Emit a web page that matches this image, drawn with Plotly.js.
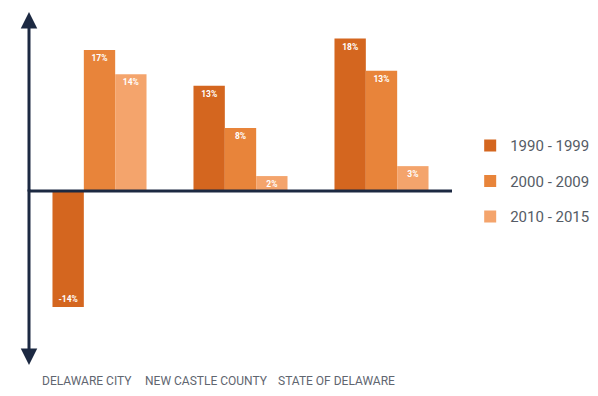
<!DOCTYPE html>
<html>
<head>
<meta charset="utf-8">
<script src="https://cdn.plot.ly/plotly-3.0.1.min.js"></script>
<style>html,body{margin:0;padding:0;background:#fff;}#chart{width:598px;height:396px;}</style>
</head>
<body>
<div id="chart"></div>
<script>
var categories = ["DELAWARE CITY", "NEW CASTLE COUNTY", "STATE OF DELAWARE"];
var seriesNames = ["1990 - 1999", "2000 - 2009", "2010 - 2015"];
var values1990 = [-14, 12.7, 18.4];
var values2000 = [17, 7.6, 14.5];
var values2010 = [14.1, 1.8, 3];
var labels1990 = ["-14%", "13%", "18%"];
var labels2000 = ["17%", "8%", "13%"];
var labels2010 = ["14%", "2%", "3%"];

var colors = ["#d4661f", "#e8843a", "#f4a46c"];
var navy = "#1c2942";
var allValues = [values1990, values2000, values2010];
var allLabels = [labels1990, labels2000, labels2010];

var traces = allValues.map(function (vals, i) {
  return {
    type: "bar",
    x: categories,
    y: vals,
    name: seriesNames[i],
    legendgroup: "g" + i,
    text: allLabels[i],
    textposition: "inside",
    insidetextanchor: "end",
    textangle: 0,
    textfont: {family: "Roboto, Arial, sans-serif", size: 8.5, color: "#ffffff", weight: "bold"},
    constraintext: "none",
    marker: {color: colors[i], line: {width: 0}},
    hoverinfo: "skip",
    cliponaxis: false
  };
});

var labelShifts = [-13, -34, -45];
var annotations = categories.map(function (c, i) {
  return {
    x: c, xref: "x", y: 0, yref: "paper",
    yanchor: "top", yshift: -7, xshift: labelShifts[i],
    text: c, showarrow: false,
    font: {family: "Roboto, Arial, sans-serif", size: 12, color: "#5f6670"}
  };
});
annotations.push({
  xref: "paper", yref: "paper", x: 0, y: 1, ax: 0, ay: 181, axref: "pixel", ayref: "pixel",
  showarrow: true, arrowhead: 2, arrowsize: 1.1, arrowwidth: 3, arrowcolor: navy, text: ""
});
annotations.push({
  xref: "paper", yref: "paper", x: 0, y: 0, ax: 0, ay: -177, axref: "pixel", ayref: "pixel",
  showarrow: true, arrowhead: 2, arrowsize: 1.1, arrowwidth: 3, arrowcolor: navy, text: ""
});

var layout = {
  width: 598, height: 396,
  margin: {l: 29, r: 146, t: 12, b: 31, pad: 0, autoexpand: false},
  paper_bgcolor: "#ffffff", plot_bgcolor: "#ffffff",
  barmode: "group", bargap: 0.333, bargroupgap: 0,
  showlegend: true,
  legend: {
    x: 1.043, xanchor: "left", y: 0.668, yanchor: "top",
    font: {family: "Roboto, Arial, sans-serif", size: 15, color: "#555c66"},
    tracegroupgap: 13, itemwidth: 30, bgcolor: "rgba(0,0,0,0)"
  },
  xaxis: {range: [-0.5, 2.5], showticklabels: false, showline: false, showgrid: false, zeroline: false, ticks: ""},
  yaxis: {range: [-21, 21.6], showticklabels: false, showline: false, showgrid: false, zeroline: false, ticks: ""},
  shapes: [{
    type: "line", xref: "paper", yref: "y", x0: 0, x1: 1, y0: 0, y1: 0,
    line: {color: navy, width: 3}, layer: "above"
  }],
  annotations: annotations
};

Plotly.newPlot("chart", traces, layout, {staticPlot: true, displayModeBar: false});
</script>
</body>
</html>
